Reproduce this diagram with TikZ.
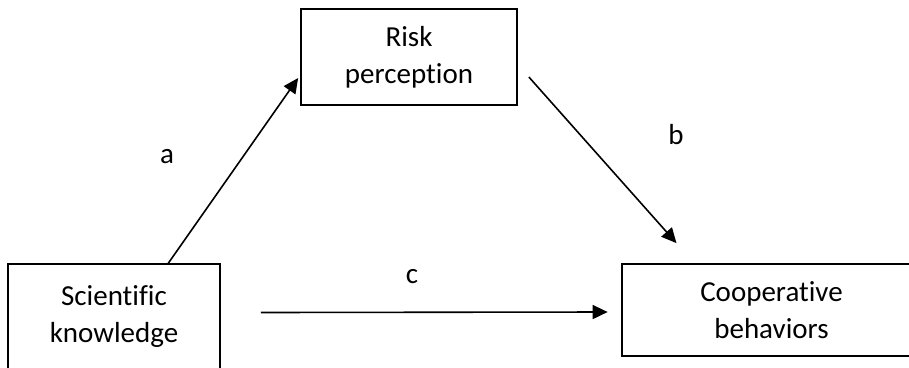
\documentclass[tikz,border=0pt]{standalone}
\usepackage{fontspec}
\setmainfont{Carlito}[RawFeature=-liga]
\usetikzlibrary{arrows.meta}
\begin{document}
\begin{tikzpicture}[x=1pt,y=-1pt,
  box/.style={draw=black, line width=1.7pt, align=center, inner sep=0pt,
    font=\fontsize{29}{37}\selectfont},
  conn/.style={line width=1.6pt, -{Triangle[length=15pt,width=14pt]}},
  lbl/.style={font=\fontsize{29}{37}\selectfont, inner sep=0pt}]
\useasboundingbox (0,0) rectangle (909,367);
\begin{scope}
\clip (0,0) rectangle (909,367);
\fill[white] (0,0) rectangle (909,367);
\node[box, minimum width=216pt, minimum height=96pt] (risk) at (409,57) {Risk\\perception};
\node[box, draw=none, minimum width=210pt, minimum height=104pt] (sci) at (114,316.5) {Scientific\\knowledge};
\draw[line width=1.7pt] ([yshift=-30pt]sci.south west) -- (sci.north west) -- (sci.north east) -- ([yshift=-30pt]sci.south east);
\node[box, draw=none, minimum width=298pt, minimum height=90pt] (coop) at (771.5,310) {Cooperative\\behaviors};
\draw[line width=1.7pt] ([xshift=40pt]coop.north east) -- (coop.north west) -- (coop.south west) -- ([xshift=40pt]coop.south east);
\draw[conn] ([xshift=54pt]sci.north) -- ([xshift=-2pt,yshift=-21pt]risk.west);
\draw[conn] ([xshift=11pt,yshift=-20pt]risk.east) -- ([xshift=-95pt,yshift=21pt]coop.north);
\draw[conn] ([xshift=41pt,yshift=4pt]sci.east) -- ([xshift=-14pt,yshift=-2pt]coop.west);
\node[lbl] (la) at (167,157) {a};
\node[lbl] (lb) at (676,135) {b};
\node[lbl] (lc) at (412,276.5) {c};
\end{scope}
\end{tikzpicture}
\end{document}
